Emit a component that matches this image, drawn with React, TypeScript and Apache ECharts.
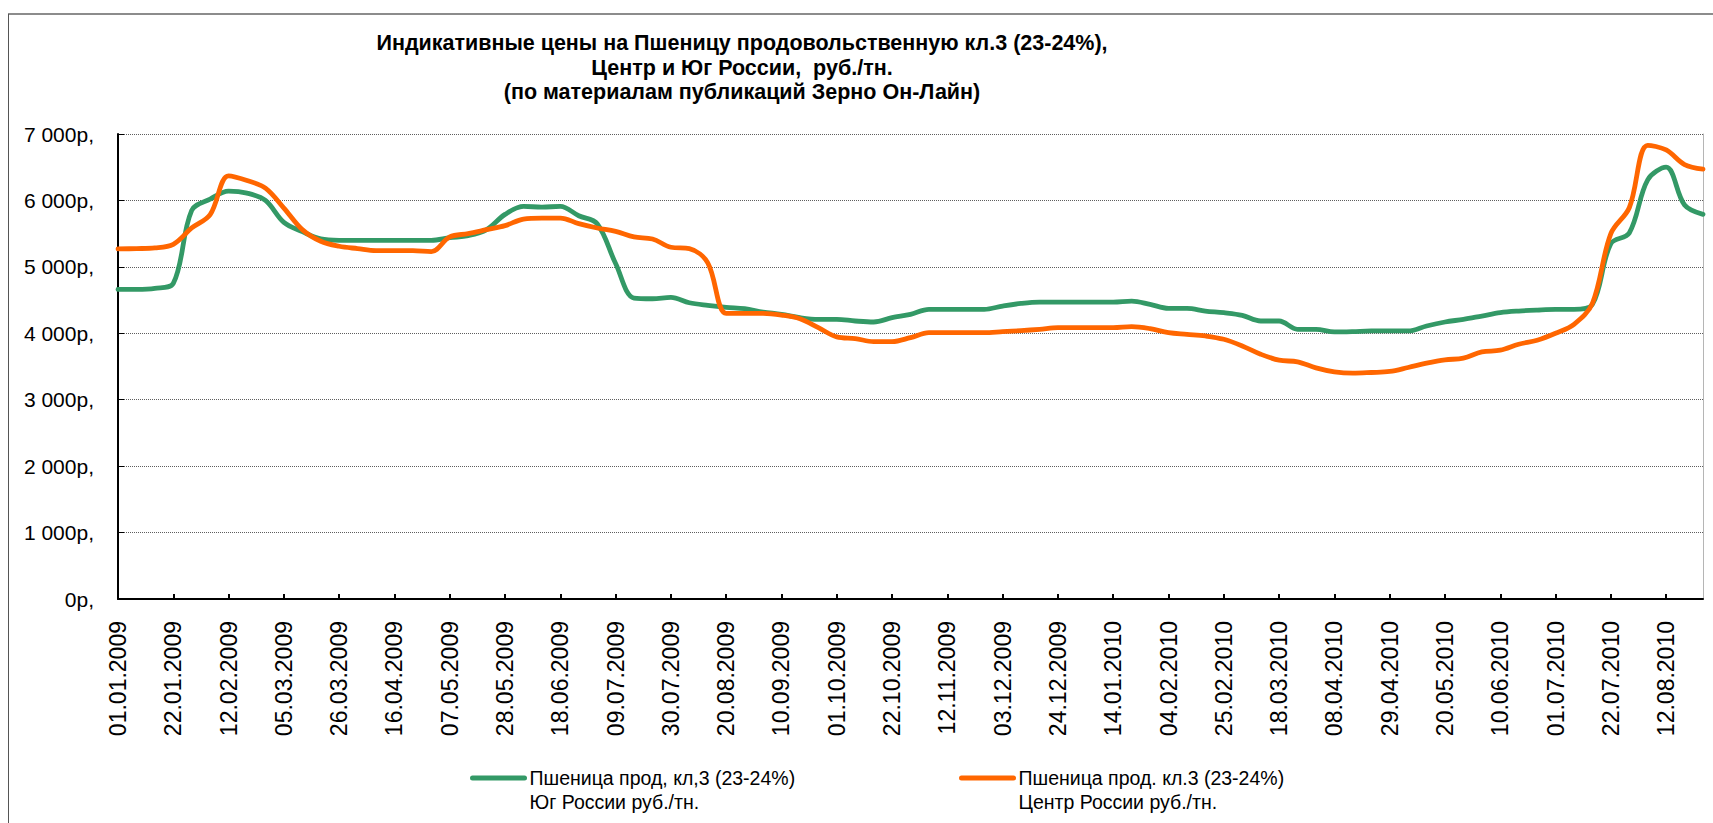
import React, { useEffect, useRef } from "react";
import * as echarts from "echarts";

const categories = [
  "01.01.2009", "08.01.2009", "15.01.2009", "22.01.2009", "29.01.2009",
  "05.02.2009", "12.02.2009", "19.02.2009", "26.02.2009",
  "05.03.2009", "12.03.2009", "19.03.2009", "26.03.2009",
  "02.04.2009", "09.04.2009", "16.04.2009", "23.04.2009", "30.04.2009",
  "07.05.2009", "14.05.2009", "21.05.2009", "28.05.2009",
  "04.06.2009", "11.06.2009", "18.06.2009", "25.06.2009",
  "02.07.2009", "09.07.2009", "16.07.2009", "23.07.2009", "30.07.2009",
  "06.08.2009", "13.08.2009", "20.08.2009", "27.08.2009",
  "03.09.2009", "10.09.2009", "17.09.2009", "24.09.2009",
  "01.10.2009", "08.10.2009", "15.10.2009", "22.10.2009", "29.10.2009",
  "05.11.2009", "12.11.2009", "19.11.2009", "26.11.2009",
  "03.12.2009", "10.12.2009", "17.12.2009", "24.12.2009", "31.12.2009",
  "07.01.2010", "14.01.2010", "21.01.2010", "28.01.2010",
  "04.02.2010", "11.02.2010", "18.02.2010", "25.02.2010",
  "04.03.2010", "11.03.2010", "18.03.2010", "25.03.2010",
  "01.04.2010", "08.04.2010", "15.04.2010", "22.04.2010", "29.04.2010",
  "06.05.2010", "13.05.2010", "20.05.2010", "27.05.2010",
  "03.06.2010", "10.06.2010", "17.06.2010", "24.06.2010",
  "01.07.2010", "08.07.2010", "15.07.2010", "22.07.2010", "29.07.2010",
  "05.08.2010", "12.08.2010", "19.08.2010", "26.08.2010",
];

// Юг России
const southPrices = [
  4660, 4660, 4675, 4750, 5850, 6020, 6140, 6110, 6000, 5670,
  5530, 5420, 5400, 5400, 5400, 5400, 5400, 5400, 5440, 5470,
  5560, 5790, 5910, 5900, 5910, 5770, 5650, 5050, 4530, 4520,
  4540, 4460, 4420, 4390, 4370, 4320, 4285, 4235, 4210, 4210,
  4185, 4170, 4235, 4285, 4360, 4360, 4360, 4360, 4410, 4450,
  4470, 4470, 4470, 4470, 4470, 4485, 4435, 4375, 4375, 4335,
  4310, 4270, 4185, 4185, 4060, 4060, 4020, 4025, 4035, 4035,
  4035, 4110, 4170, 4210, 4260, 4310, 4335, 4350, 4360, 4360,
  4435, 5350, 5510, 6310, 6500, 5930, 5790,
];

// Центр России
const centerPrices = [
  5270, 5275, 5285, 5340, 5585, 5785, 6370, 6300, 6185, 5885,
  5560, 5385, 5310, 5275, 5245, 5245, 5245, 5230, 5450, 5500,
  5560, 5620, 5720, 5735, 5735, 5650, 5585, 5535, 5450, 5420,
  5295, 5275, 5060, 4300, 4300, 4300, 4275, 4220, 4085, 3945,
  3920, 3875, 3875, 3935, 4010, 4010, 4010, 4010, 4025, 4040,
  4060, 4085, 4085, 4085, 4085, 4100, 4070, 4010, 3985, 3960,
  3910, 3810, 3685, 3595, 3570, 3480, 3420, 3400, 3410, 3425,
  3485, 3550, 3600, 3625, 3720, 3745, 3835, 3895, 4000, 4135,
  4450, 5500, 5890, 6830, 6760, 6540, 6470,
];

const titleLines = [
  "Индикативные цены на Пшеницу продовольственную кл.3 (23-24%),",
  "Центр и Юг России,  руб./тн.",
  "(по материалам публикаций Зерно Он-Лайн)",
];

const seriesNames = [
  "Пшеница прод, кл,3 (23-24%)\nЮг России руб./тн.",
  "Пшеница прод. кл.3 (23-24%)\nЦентр России руб./тн.",
];

const seriesColors = ["#339966", "#ff6600"];

const yMin = 0;
const yMax = 7000;
const yStep = 1000;

const FONT = '"Liberation Sans", Arial, sans-serif';

function fmtRub(v: number): string {
  const s = String(v);
  const t = s.length > 3 ? s.slice(0, -3) + " " + s.slice(-3) : s;
  return t + "р,";
}

export default function App() {
  const ref = useRef<HTMLDivElement>(null);
  useEffect(() => {
    if (!ref.current) return;
    const chart = echarts.init(ref.current, null, { renderer: "svg" });
    // a blank leading line keeps the legend line level with the first text line
    const legendBase = {
      top: 737,
      itemWidth: 52,
      itemHeight: 12,
      itemStyle: { opacity: 0 },
      lineStyle: { width: 5, cap: "round" },
      formatter: (name: string) => "\n" + name,
      textStyle: {
        fontSize: 19.5,
        lineHeight: 24,
        color: "#000",
        fontFamily: FONT,
      },
    };
    chart.setOption({
      animation: false,
      backgroundColor: "#ffffff",
      textStyle: { fontFamily: FONT, color: "#000" },
      grid: { left: 118, right: 10, top: 134, bottom: 224, containLabel: false },
      graphic: [
        {
          type: "line",
          shape: { x1: 8, y1: 14, x2: 1713, y2: 14 },
          style: { stroke: "#8c8c8c", lineWidth: 2 },
          silent: true,
        },
        {
          type: "line",
          shape: { x1: 8.5, y1: 14, x2: 8.5, y2: 823 },
          style: { stroke: "#555", lineWidth: 1 },
          silent: true,
        },
        {
          type: "text",
          x: 742,
          y: 31,
          style: {
            text: titleLines.join("\n"),
            textAlign: "center",
            textVerticalAlign: "top",
            font: `bold 21.5px ${FONT}`,
            lineHeight: 24.5,
            fill: "#000",
          },
        },
      ],
      legend: [
        { ...legendBase, data: [seriesNames[0]], left: 465 },
        { ...legendBase, data: [seriesNames[1]], left: 954 },
      ],
      xAxis: {
        type: "category",
        data: categories,
        boundaryGap: false,
        axisLine: { show: true, lineStyle: { color: "#000", width: 2 } },
        axisTick: { show: true, inside: true, length: 5, interval: 2, lineStyle: { color: "#000", width: 2 } },
        axisLabel: {
          interval: 2,
          rotate: 90,
          fontSize: 23,
          color: "#000",
          margin: 22,
          fontFamily: FONT,
        },
        splitLine: { show: false },
      },
      yAxis: [
        {
          type: "value",
          min: yMin,
          max: yMax,
          interval: yStep,
          axisLine: { show: true, lineStyle: { color: "#000", width: 2 } },
          axisTick: { show: true, inside: true, length: 6, lineStyle: { color: "#000", width: 1 } },
          axisLabel: {
            formatter: (v: number) => fmtRub(v),
            fontSize: 21,
            color: "#000",
            margin: 24,
            fontFamily: FONT,
          },
          splitLine: { show: true, lineStyle: { color: "#5e5e5e", type: [1, 1], width: 1 } },
        },
        {
          type: "value",
          position: "right",
          min: yMin,
          max: yMax,
          interval: yStep,
          axisLine: { show: true, lineStyle: { color: "#b5b5b5", width: 1 } },
          axisTick: { show: false },
          axisLabel: { show: false },
          splitLine: { show: false },
        },
      ],
      series: [
        {
          name: seriesNames[0],
          type: "line",
          data: southPrices,
          smooth: 0.35,
          symbol: "none",
          lineStyle: { color: seriesColors[0], width: 4.8, cap: "round", join: "round" },
          itemStyle: { color: seriesColors[0] },
        },
        {
          name: seriesNames[1],
          type: "line",
          data: centerPrices,
          smooth: 0.35,
          symbol: "none",
          lineStyle: { color: seriesColors[1], width: 4.8, cap: "round", join: "round" },
          itemStyle: { color: seriesColors[1] },
        },
      ],
    });
    return () => chart.dispose();
  }, []);
  return (
    <div
      ref={ref}
      style={{ position: "fixed", left: 0, top: 0, width: 1713, height: 823, background: "#fff" }}
    />
  );
}
